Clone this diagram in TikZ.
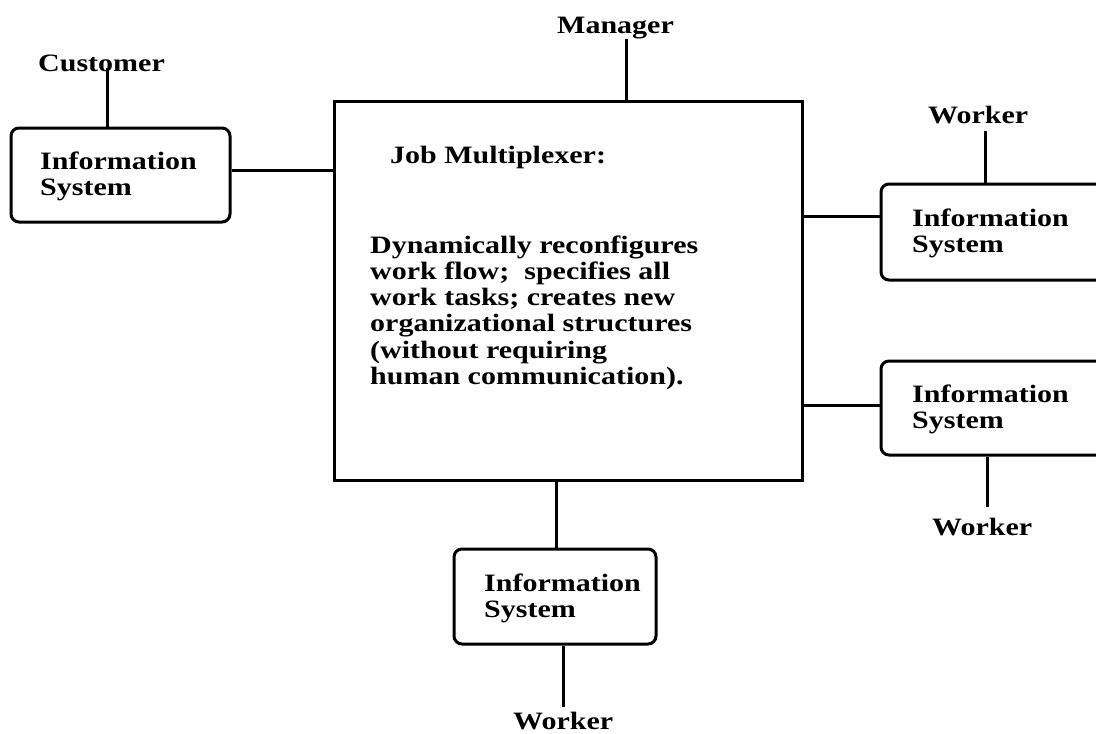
\documentclass[tikz,border=0pt]{standalone}
\usepackage{fontspec}
\setmainfont{Liberation Serif}[FakeStretch=1.2]
\begin{document}
\begin{tikzpicture}[x=1pt,y=-1pt,
  ln/.style={line width=3pt},
  isbox/.style={draw,line width=3pt,rounded corners=8pt,inner sep=0pt},
  mainbox/.style={draw,line width=3pt,inner sep=0pt},
  lbl/.style={anchor=base west,inner sep=0pt,font=\fontsize{25}{26.3}\selectfont\bfseries,align=left}]
\useasboundingbox (0,0) rectangle (1096,734);
\clip (0,0) rectangle (1096,734);
% boxes
\node[mainbox,minimum width=468pt,minimum height=379pt] (main) at (568,290.5) {};
\node[isbox,minimum width=219pt,minimum height=94pt] (isL) at (120.5,175) {};
\node[isbox,minimum width=240pt,minimum height=96pt] (isR1) at (1001,232) {};
\node[isbox,minimum width=240pt,minimum height=94pt] (isR2) at (1001,408) {};
\node[isbox,minimum width=202pt,minimum height=95pt] (isB) at (555,596.5) {};
% texts (base = baseline of last line)
\node[lbl] (tL) at (40,195.3) {Information\\System};
\node[lbl] (tR1) at (912,252.3) {Information\\System};
\node[lbl] (tR2) at (912,428.3) {Information\\System};
\node[lbl] (tB) at (484,617.3) {Information\\System};
\node[lbl] (job) at (390,163) {Job Multiplexer:};
\node[lbl] (desc) at (370,384.5) {Dynamically reconfigures\\work flow;\ \ specifies all\\work tasks; creates new\\organizational structures\\(without requiring\\human communication).};
\node[lbl] (cust) at (38,71) {Customer};
\node[lbl] (mgr) at (557,33) {Manager};
\node[lbl] (w1) at (928,123) {Worker};
\node[lbl] (w2) at (932,535) {Worker};
\node[lbl] (w3) at (513,729) {Worker};
% free ends
\coordinate (cE) at (107,68);
\coordinate (mE) at (626,39);
\coordinate (w1E) at (985,131);
\coordinate (w2E) at (987,507);
\coordinate (w3E) at (563,707);
% connectors
\draw[ln] (cE) -- (cE |- isL.north);
\draw[ln] (mE) -- (mE |- main.north);
\draw[ln] (w1E) -- (w1E |- isR1.north);
\draw[ln] (w2E) -- (w2E |- isR2.south);
\draw[ln] (w3E) -- (w3E |- isB.south);
\draw[ln] (isL.east |- 0,170) -- (main.west |- 0,170);
\draw[ln] (main.east |- 0,216) -- (isR1.west |- 0,216);
\draw[ln] (main.east |- 0,405) -- (isR2.west |- 0,405);
\draw[ln] (main.south -| 556,0) -- (isB.north -| 556,0);
\end{tikzpicture}
\end{document}
